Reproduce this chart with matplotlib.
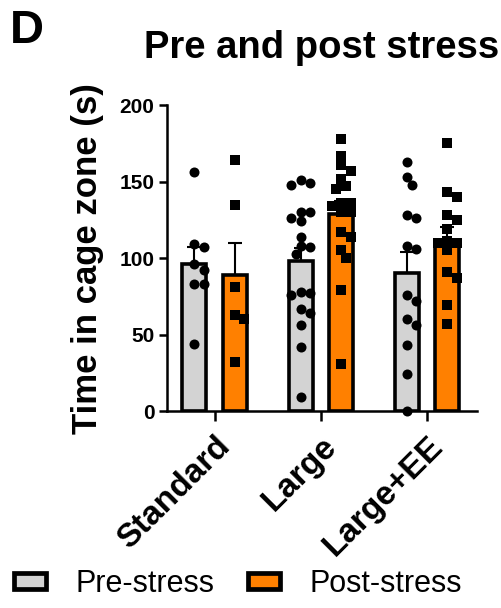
import numpy as np
import matplotlib
matplotlib.use("Agg")
import matplotlib.pyplot as plt
from matplotlib.patches import Patch

plt.rcParams['font.family'] = ['Liberation Sans', 'DejaVu Sans']

# Data
groups = ['Standard', 'Large', 'Large+EE']
series = ['Pre-stress', 'Post-stress']
pre_stress = [
    [156, 109, 107, 96, 92, 83, 83, 44],
    [151, 149, 148, 130, 130, 126, 124, 114, 108, 107, 103, 78, 77, 76, 67, 64, 56, 42, 9],
    [163, 153, 148, 128, 126, 108, 106, 76, 72, 60, 56, 43, 24, 0],
]
post_stress = [
    [164, 135, 81, 63, 60, 32],
    [178, 167, 161, 157, 152, 147, 145, 136, 136, 134, 130, 130, 117, 114, 105, 100, 79, 31],
    [175, 143, 140, 128, 125, 119, 111, 110, 110, 105, 91, 87, 69, 57],
]
colors = ['#d3d3d3', '#ff8000']
markers = ['o', 's']


def swarm_offsets(ax, xc, vals, diam_px):
    # simple beeswarm: place points in order, pick smallest free offset
    trans = ax.transData
    pts = []
    offs = np.zeros(len(vals))
    order = np.argsort(vals)[::-1]
    x0 = trans.transform((xc, 0))[0]
    cands = [0.0]
    for j in range(1, 8):
        cands += [j * diam_px * 0.5, -j * diam_px * 0.5]
    for i in order:
        py = trans.transform((xc, vals[i]))[1]
        for c in cands:
            if all((c - px) ** 2 + (py - qy) ** 2 >= (0.85 * diam_px) ** 2
                   for px, qy in pts):
                break
        pts.append((c, py))
        offs[i] = trans.inverted().transform((x0 + c, py))[0]
    return offs


fig = plt.figure(figsize=(5.01, 6.08), dpi=100)
ax = fig.add_axes([0.333, 0.324, 0.619, 0.503])
ax.set_xlim(-0.45, 2.47)
ax.set_ylim(0, 200)

x = np.arange(len(groups))
width = 0.226
shift = 0.19

fig.canvas.draw()
for s, data in enumerate([pre_stress, post_stress]):
    xs = x + (shift if s else -shift)
    means = [np.mean(d) for d in data]
    sems = [np.std(d, ddof=1) / np.sqrt(len(d)) for d in data]
    ax.errorbar(xs, means, yerr=[np.zeros(len(sems)), sems], fmt='none',
                ecolor='black', elinewidth=1.5, capsize=5, capthick=1.5, zorder=1)
    ax.bar(xs, means, width=width, color=colors[s], edgecolor='black',
           linewidth=2.6, zorder=2, label=series[s])
    for g, d in enumerate(data):
        px = swarm_offsets(ax, xs[g], np.array(d, float), 9.5)
        ax.scatter(px, d, marker=markers[s], s=52 if s == 0 else 46,
                   color='black', zorder=3, clip_on=False, linewidths=0)

ax.spines['top'].set_visible(False)
ax.spines['right'].set_visible(False)
ax.spines['left'].set_linewidth(1.8)
ax.spines['bottom'].set_linewidth(1.8)
ax.set_yticks([0, 50, 100, 150, 200])
ax.set_xticks(x)
ax.set_xticklabels(groups, rotation=45, ha='right', va='top',
                   rotation_mode='anchor', fontsize=24, fontweight='bold')
ax.tick_params(axis='y', length=6, width=1.8, labelsize=15, pad=3)
ax.tick_params(axis='x', length=7, width=1.8, pad=7)
for t in ax.get_yticklabels():
    t.set_fontweight('bold')
ax.set_ylabel('Time in cage zone (s)', fontsize=25, fontweight='bold', labelpad=11)
ax.set_title('Pre and post stress', fontsize=27.5, fontweight='bold', pad=34)
fig.text(0.02, 0.985, 'D', fontsize=34, fontweight='bold', va='top', ha='left')

handles = [Patch(facecolor=colors[i], edgecolor='black', linewidth=3.4,
                 label=series[i]) for i in range(2)]
fig.legend(handles=handles, loc='lower center', bbox_to_anchor=(0.475, -0.03),
           ncol=2, frameon=False, fontsize=22, handlelength=1.05,
           handleheight=0.42, handletextpad=0.95, columnspacing=1.1)

fig.savefig('out.png', dpi=100)
